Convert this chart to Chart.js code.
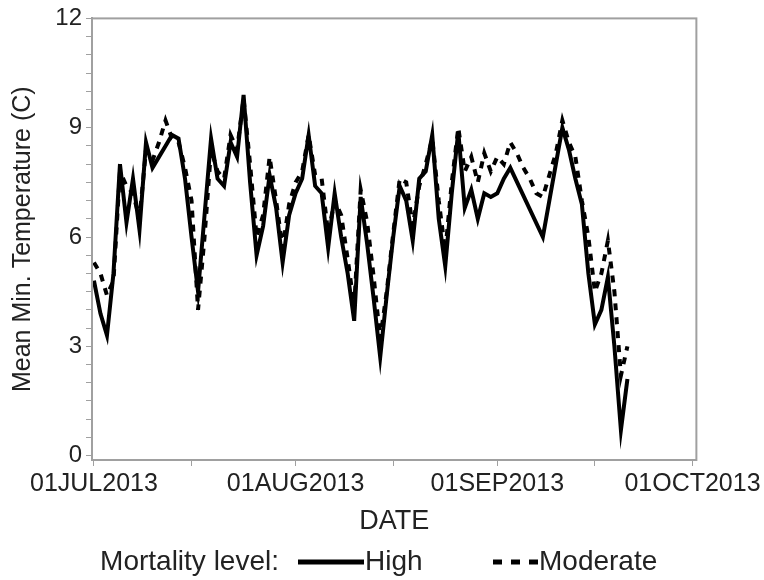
<!DOCTYPE html>
<html>
<head>
<meta charset="utf-8">
<script src="https://cdn.jsdelivr.net/npm/chart.js@4"></script>
<style>
  html, body { margin: 0; padding: 0; background: #fff; }
  #wrap { width: 764px; height: 580px; }
</style>
</head>
<body>
<div id="wrap"><canvas id="grafik" width="764" height="580"></canvas></div>
<script>
// Suhu minimum rata-rata harian, hari ke-0 = 01JUL2013
const tingkatMortalitas = ['High', 'Moderate'];
const suhuHigh = [
  4.8, 3.9, 3.3, 5.0, 8.0, 6.4, 7.6, 6.2, 8.6, 7.9,
  8.2, 8.5, 8.8, 8.7, 7.6, 6.0, 4.5, 6.6, 8.7, 7.6,
  7.4, 8.6, 8.2, 9.9, 7.5, 5.5, 6.3, 7.7, 6.8, 5.3,
  6.6, 7.2, 7.6, 8.8, 7.4, 7.2, 5.7, 7.2, 6.0, 5.0,
  3.7, 7.1, 5.8, 4.3, 2.7, 4.4, 6.0, 7.4, 7.0, 5.9,
  7.6, 7.8, 8.8, 6.5, 5.2, 7.2, 8.9, 6.8, 7.3, 6.5,
  7.2, 7.1, 7.2, 7.6, 7.9, null, null, null, null, 6.0,
  7.0, 8.0, 9.0, 8.4, 7.6, 6.9, 5.0, 3.6, 4.0, 4.9,
  3.0, 0.7, 2.1
];
const suhuModerate = [
  5.3, 5.0, 4.4, 4.8, 7.8, 7.4, 7.2, 6.5, 8.4, 8.1,
  8.6, 9.2, 8.7, 8.6, 7.9, 7.0, 4.0, 6.0, 8.4, 7.8,
  7.6, 8.8, 8.4, 9.8, 8.0, 6.0, 6.6, 8.2, 7.0, 5.7,
  6.9, 7.5, 7.8, 8.8, 7.7, 7.6, 6.1, 7.0, 6.6, 5.4,
  4.1, 7.3, 6.4, 4.9, 3.2, 4.5, 6.1, 7.6, 7.5, 6.3,
  7.4, 8.0, 8.7, 7.0, 5.6, 7.5, 9.0, 7.8, 8.2, 7.5,
  8.3, 7.8, 8.2, 8.0, 8.6, 8.3, 7.9, 7.6, 7.2, 7.1,
  7.7, 8.3, 9.2, 8.6, 8.2, 7.0, 6.0, 4.5, 5.0, 5.9,
  4.5, 2.2, 3.0
];
// Posisi tick sumbu-x (hari sejak 01JUL2013) dan labelnya
const tickHari = [0, 15, 31, 46, 62, 77, 92];
const labelTanggal = ['01JUL2013', '', '01AUG2013', '', '01SEP2013', '', '01OCT2013'];
const labelSuhu = [0, 3, 6, 9, 12];

const huruf = "'Liberation Sans', Arial, sans-serif";
const warnaTeks = '#222';
const warnaSumbu = '#a0a0a0';

function keTitik(nilai) {
  return nilai.map((v, i) => ({ x: i, y: v }));
}

// Bingkai abu-abu di sekeliling area grafik
const bingkai = {
  id: 'bingkai',
  afterDraw(chart) {
    const a = chart.chartArea;
    const ctx = chart.ctx;
    ctx.save();
    ctx.strokeStyle = warnaSumbu;
    ctx.lineWidth = 2;
    ctx.strokeRect(a.left, a.top, a.right - a.left, a.bottom - a.top);
    ctx.restore();
  }
};

// Legenda satu baris di bawah judul sumbu-x
const legendaBawah = {
  id: 'legendaBawah',
  afterDraw(chart) {
    const ctx = chart.ctx;
    const y = 562;
    ctx.save();
    ctx.font = '28px ' + huruf;
    ctx.fillStyle = warnaTeks;
    ctx.textBaseline = 'middle';
    ctx.textAlign = 'right';
    ctx.fillText('Mortality level:', 279, y);
    ctx.textAlign = 'left';
    ctx.strokeStyle = '#000';
    ctx.lineWidth = 5;
    ctx.beginPath();
    ctx.moveTo(298, y);
    ctx.lineTo(364, y);
    ctx.stroke();
    ctx.fillText(tingkatMortalitas[0], 365, y);
    ctx.setLineDash([9, 9]);
    ctx.beginPath();
    ctx.moveTo(493, y);
    ctx.lineTo(538, y);
    ctx.stroke();
    ctx.setLineDash([]);
    ctx.fillText(tingkatMortalitas[1], 539, y);
    ctx.restore();
  }
};

new Chart(document.getElementById('grafik'), {
  type: 'line',
  data: {
    datasets: [
      {
        label: tingkatMortalitas[0],
        data: keTitik(suhuHigh),
        borderColor: '#000',
        borderWidth: 4,
        pointRadius: 0,
        tension: 0,
        spanGaps: true
      },
      {
        label: tingkatMortalitas[1],
        data: keTitik(suhuModerate),
        borderColor: '#000',
        borderWidth: 4,
        borderDash: [7, 7],
        pointRadius: 0,
        tension: 0,
        spanGaps: true
      }
    ]
  },
  options: {
    responsive: false,
    animation: false,
    layout: { padding: { top: 18, right: 66, left: 0, bottom: 40 } },
    plugins: { legend: { display: false }, tooltip: { enabled: false } },
    scales: {
      x: {
        type: 'linear',
        min: -0.3,
        max: 92.6,
        afterBuildTicks: (s) => { s.ticks = tickHari.map((v) => ({ value: v })); },
        afterFit: (s) => { s.height = 80; },
        ticks: {
          autoSkip: false,
          maxRotation: 0,
          padding: 3,
          color: warnaTeks,
          font: { family: huruf, size: 25 },
          callback: (v) => labelTanggal[tickHari.indexOf(v)] || ''
        },
        grid: { drawOnChartArea: false, tickLength: 6, color: warnaSumbu },
        border: { color: warnaSumbu, width: 2 },
        title: {
          display: true,
          text: 'DATE',
          color: warnaTeks,
          font: { family: huruf, size: 27 },
          padding: { top: 0, bottom: 2 }
        }
      },
      y: {
        min: -0.12,
        max: 12.0,
        afterBuildTicks: (s) => {
          const t = [];
          for (let v = 0; v <= 12; v += 0.5) t.push({ value: v });
          s.ticks = t;
        },
        afterFit: (s) => { s.width = 92; },
        ticks: {
          autoSkip: false,
          padding: 4,
          color: warnaTeks,
          font: { family: huruf, size: 24 },
          callback: (v) => (labelSuhu.includes(v) ? String(v) : '')
        },
        grid: { drawOnChartArea: false, tickLength: 6, color: warnaSumbu },
        border: { color: warnaSumbu, width: 2 },
        title: {
          display: true,
          text: 'Mean Min. Temperature (C)',
          color: warnaTeks,
          font: { family: huruf, size: 25 },
          padding: { top: 8, bottom: 0 }
        }
      }
    }
  },
  plugins: [bingkai, legendaBawah]
});
</script>
</body>
</html>
